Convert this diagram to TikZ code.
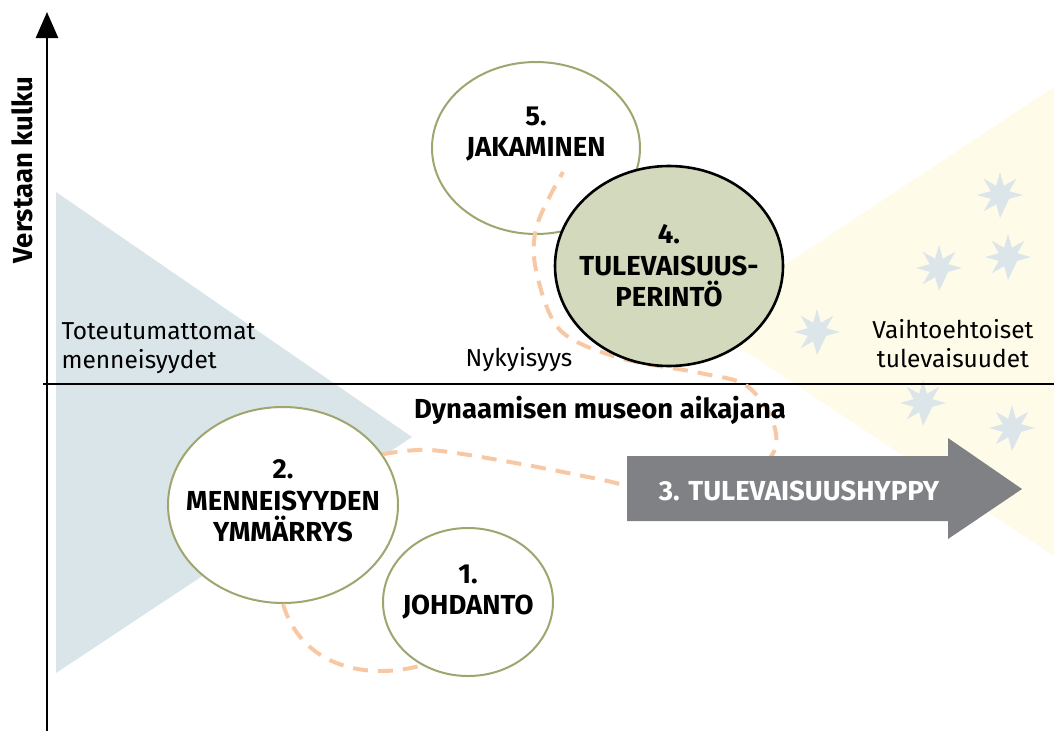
\documentclass[tikz,border=0pt]{standalone}
\usepackage{fontspec}
\setmainfont{Fira Sans}
\usetikzlibrary{shapes.geometric,arrows.meta}
\definecolor{triblue}{HTML}{DAE5E9}
\definecolor{triyellow}{HTML}{FEFBE8}
\definecolor{starc}{HTML}{DCE6EA}
\definecolor{olive}{HTML}{9DA66E}
\definecolor{sage}{HTML}{D3D9BC}
\definecolor{arrowgray}{HTML}{808184}
\definecolor{peach}{HTML}{F8C8A5}
\tikzset{
  starpic/.pic={\fill[starc] (90:23) -- (112.5:10) -- (135:23) -- (157.5:10) -- (180:23) -- (202.5:10) -- (225:23) -- (247.5:10) -- (270:23) -- (292.5:10) -- (315:23) -- (337.5:10) -- (0:23) -- (22.5:10) -- cycle;},
  bubble/.style={ellipse, draw=olive, line width=2pt, fill=white, inner sep=0pt},
  bubblelabel/.style={align=center, font=\fontsize{27.5}{31.5}\selectfont\bfseries},
  plain/.style={font=\fontsize{24.5}{29}\selectfont},
  boldtext/.style={font=\fontsize{27.5}{31}\selectfont\bfseries},
  dashpath/.style={draw=peach, line width=4pt, dash pattern=on 15pt off 10pt},
  axisline/.style={line width=2.6pt, black}
}
\begin{document}
\begin{tikzpicture}[x=1pt,y=-1pt]
\useasboundingbox (0,0) rectangle (1054,731);
% background shapes
\fill[triblue] (56,192) -- (412,437) -- (56,673) -- cycle;
\fill[triyellow] (1054,87) -- (700,321) -- (1054,556) -- cycle;
\foreach \p in {(1000,195),(1008,257),(939,268),(817,332),(923,403),(1012,428)}
  \pic at \p {starpic};
% axes
\coordinate (yb) at (47,731);
\coordinate (yt) at (47,12);
\coordinate (xl) at (43,384);
\coordinate (xr) at (1054,384);
\draw[axisline, -{Triangle[width=22pt,length=26pt]}] (yb) -- (yt);
\draw[axisline] (xl) -- (xr);
% bubbles
\node[bubble, minimum width=208pt, minimum height=172pt] (c5) at (536,148) {};
\node[bubble, minimum width=230pt, minimum height=196pt] (c2) at (283,505) {};
\node[bubble, minimum width=170pt, minimum height=148pt] (c1) at (468,602) {};
% dashed route
\coordinate (c5end) at (563,172);
\draw[dashpath] (c2.south) .. controls (300,662) and (360,682) .. (c1.234);
\draw[dashpath] plot[smooth, tension=0.55] coordinates {(c2.27) (430,450) (510,462) (603,480) (700,500) (768,460) (774,425) (747,386) (700,373) (620,358) (560,330) (536,270) (537,225) (c5end)};
% tulevaisuusperinto
\node[ellipse, draw=black, line width=2.6pt, fill=sage, inner sep=0pt, minimum width=228pt, minimum height=200pt] (c4) at (669,266) {};
% arrow
\fill[arrowgray] (627,456) -- (948,456) -- (948,438) -- (1022,489) -- (948,539) -- (948,521) -- (627,521) -- cycle;
\node[boldtext, text=white] (t3) at (799,491) {3. TULEVAISUUSHYPPY};
% labels
\node[bubblelabel] (t5) at (536,134) {5.\\JAKAMINEN};
\node[bubblelabel] (t4) at (669,266) {4.\\TULEVAISUUS-\\PERINTÖ};
\node[bubblelabel] (t2) at (283,501) {2.\\MENNEISYYDEN\\YMMÄRRYS};
\node[bubblelabel] (t1) at (468,592) {1.\\JOHDANTO};
\node[plain, align=left, anchor=west] (past) at (58,348) {Toteutumattomat\\menneisyydet};
\node[plain] (now) at (519,360) {Nykyisyys};
\node[plain, align=center] (fut) at (953,344) {Vaihtoehtoiset\\tulevaisuudet};
\node[boldtext] (tl) at (600,410) {Dynaamisen museon aikajana};
\node[boldtext, rotate=90] (vk) at (22,170) {Verstaan kulku};
\end{tikzpicture}
\end{document}
